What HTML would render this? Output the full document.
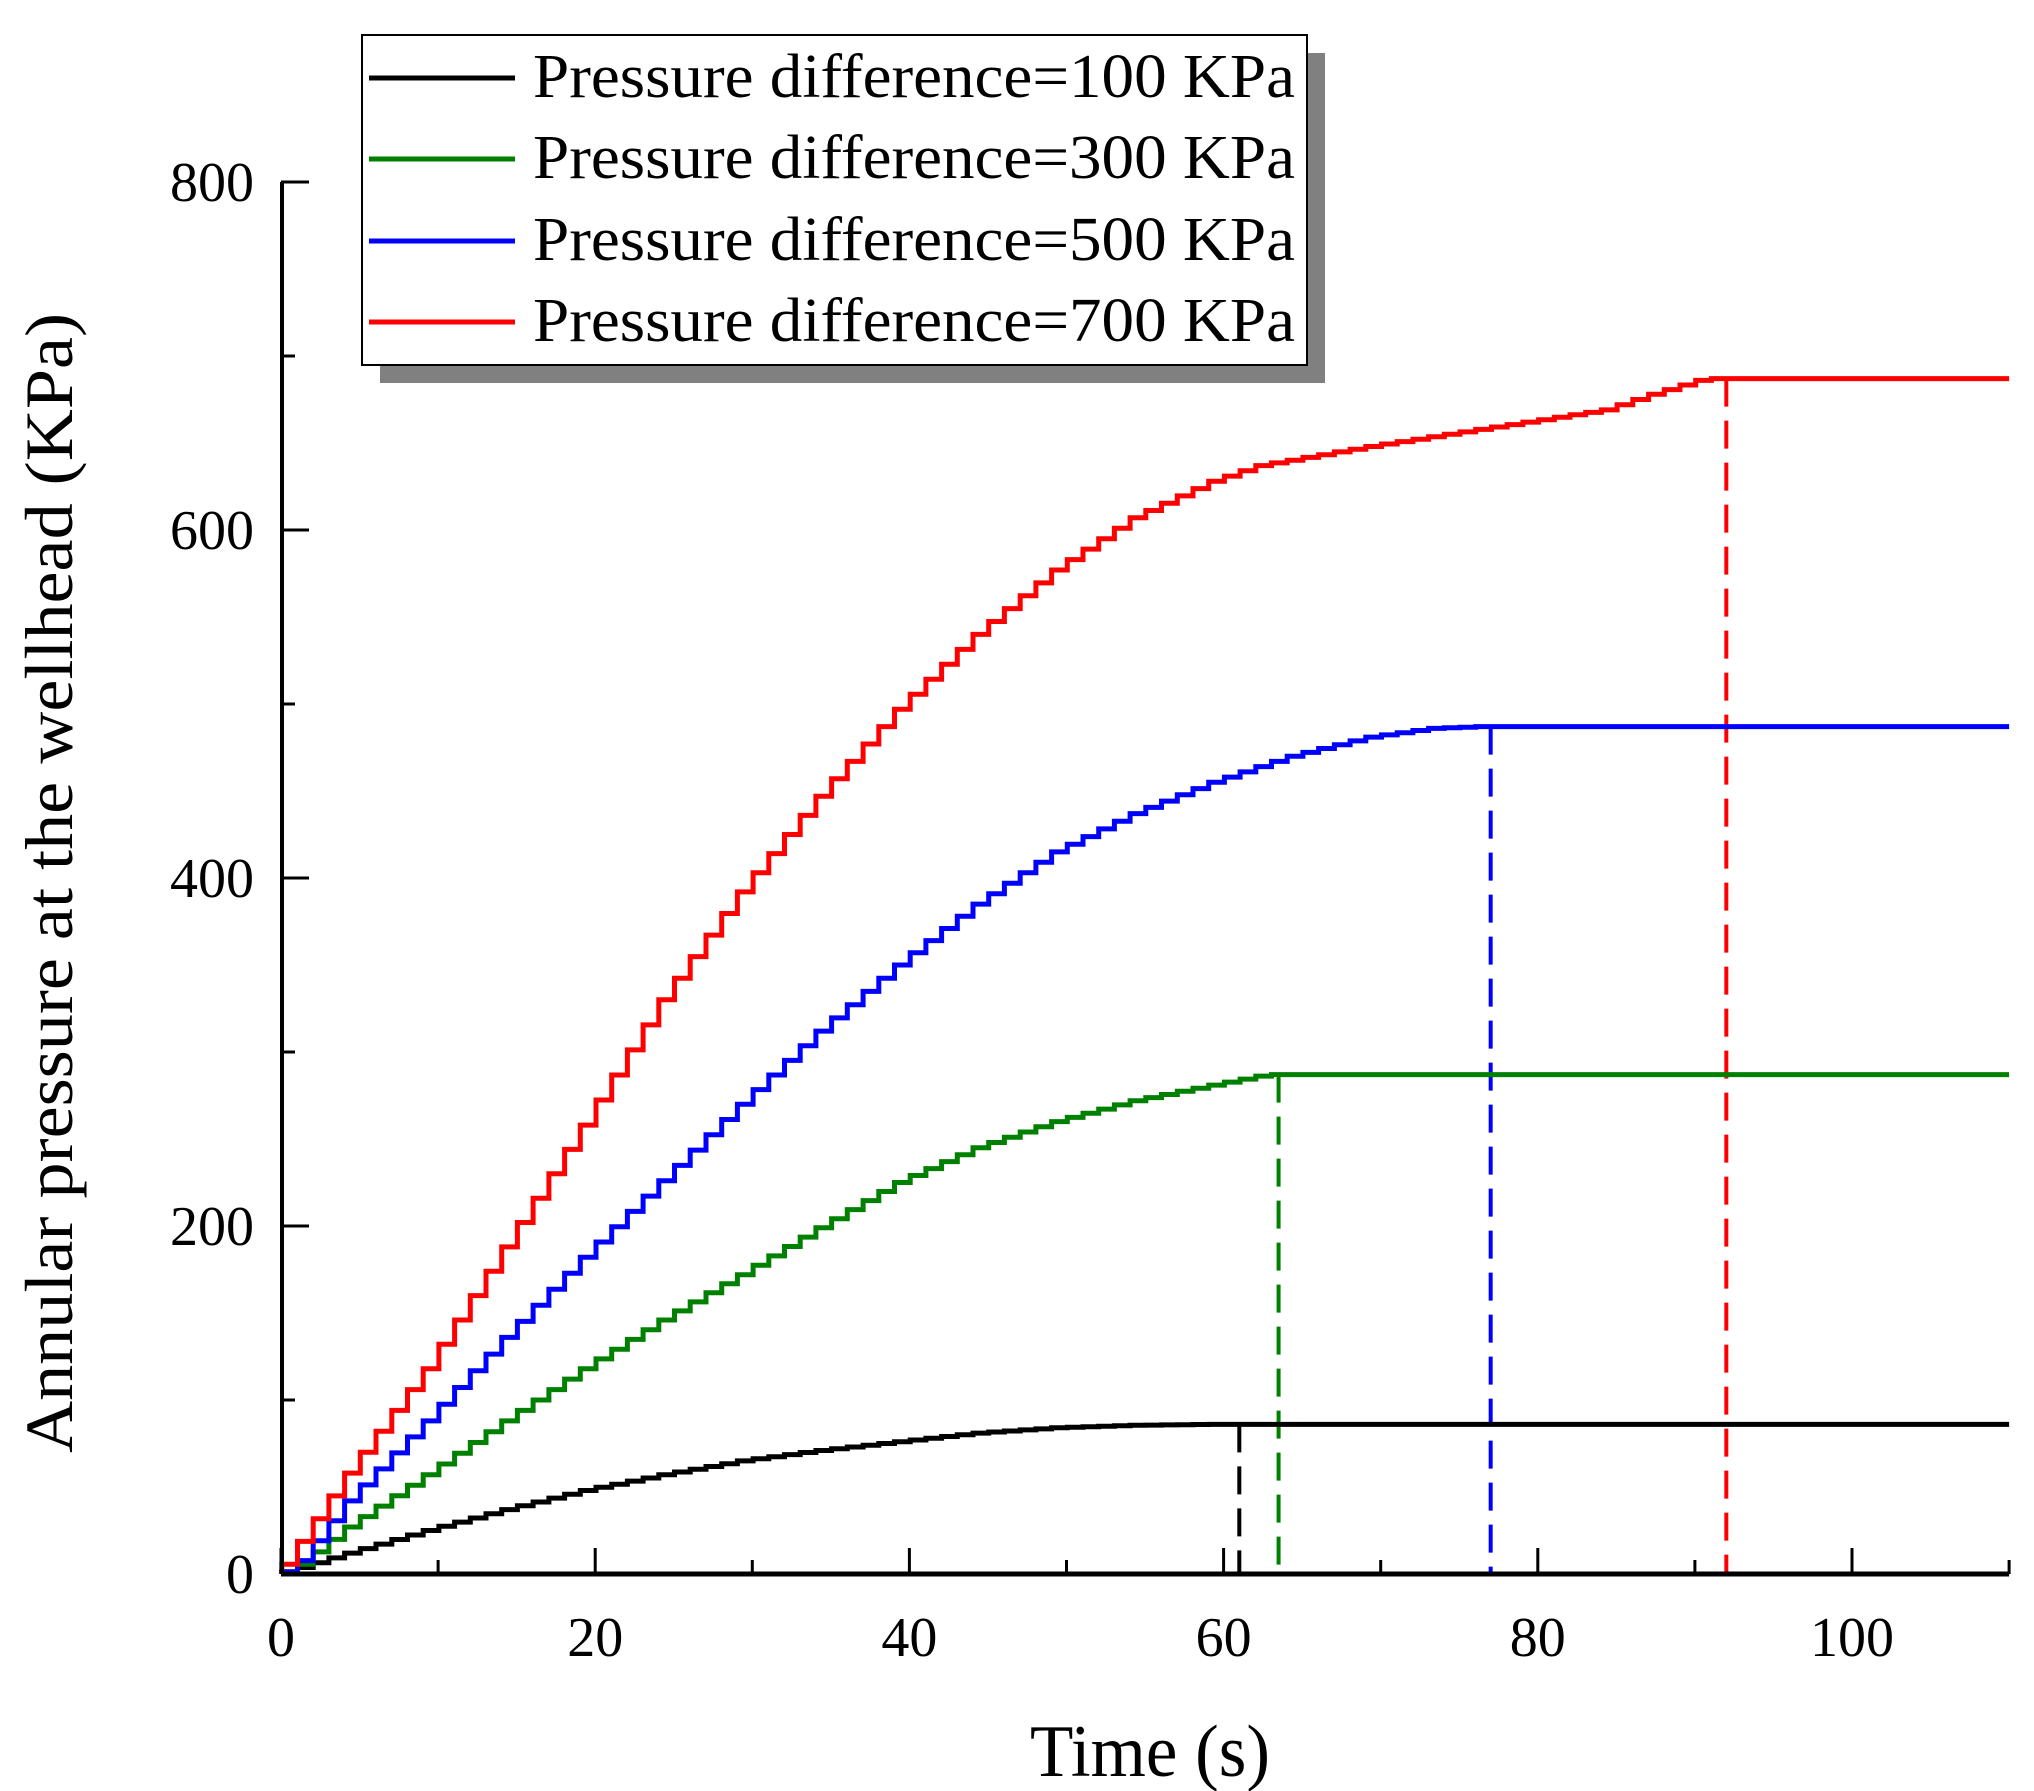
<!DOCTYPE html>
<html><head><meta charset="utf-8"><style>
html,body{margin:0;padding:0;background:#fff;}
svg{display:block;}
text{font-family:"Liberation Serif",serif;fill:#000;}
</style></head><body>
<svg id="s" width="2034" height="1791" viewBox="0 0 2034 1791" xmlns="http://www.w3.org/2000/svg">
<rect width="2034" height="1791" fill="#fff"/>
<g id="series"></g>
<g id="axes" stroke="#000" stroke-width="4" fill="none"></g>
<g id="labels"></g>
<!-- legend -->
<rect x="380" y="53" width="945" height="330" fill="#808080"/>
<rect x="362" y="35" width="945" height="330" fill="#fff" stroke="#000" stroke-width="2"/>
<line x1="369" y1="78" x2="515" y2="78" stroke="#000" stroke-width="5"/>
<line x1="369" y1="159" x2="515" y2="159" stroke="#008000" stroke-width="5"/>
<line x1="369" y1="241" x2="515" y2="241" stroke="#0000ff" stroke-width="5"/>
<line x1="369" y1="322" x2="515" y2="322" stroke="#ff0000" stroke-width="5"/>
<text x="533" y="97" font-size="62" textLength="762" lengthAdjust="spacingAndGlyphs">Pressure difference=100 KPa</text>
<text x="533" y="178" font-size="62" textLength="762" lengthAdjust="spacingAndGlyphs">Pressure difference=300 KPa</text>
<text x="533" y="260" font-size="62" textLength="762" lengthAdjust="spacingAndGlyphs">Pressure difference=500 KPa</text>
<text x="533" y="341" font-size="62" textLength="762" lengthAdjust="spacingAndGlyphs">Pressure difference=700 KPa</text>
<text x="1150" y="1776" font-size="74" text-anchor="middle" textLength="240" lengthAdjust="spacingAndGlyphs">Time (s)</text>
<text transform="translate(72,883) rotate(-90)" font-size="68" text-anchor="middle" textLength="1140" lengthAdjust="spacingAndGlyphs">Annular pressure at the wellhead (KPa)</text>
</svg>
<script>
var NS="http://www.w3.org/2000/svg";
var X0=281,SX=15.71,Y0=1574,SY=1.74;
function px(t){return X0+t*SX;} function py(v){return Y0-v*SY;}
function el(p,tag,a){var e=document.createElementNS(NS,tag);for(var k in a)e.setAttribute(k,a[k]);p.appendChild(e);return e;}
function interp(pts,t){if(t<=pts[0][0])return pts[0][1];for(var i=1;i<pts.length;i++){if(t<=pts[i][0]){var a=pts[i-1],b=pts[i];return a[1]+(b[1]-a[1])*(t-a[0])/(b[0]-a[0]);}}return pts[pts.length-1][1];}
var S=[
 {c:"#000",end:61,dash:61,p:[[0,0],[1,1],[5,12],[10,25],[15,37],[20,48],[25,57],[30,65],[35,71],[40,76],[45,81],[50,84],[55,85.5],[60,86]]},
 {c:"#008000",end:63.5,dash:63.5,p:[[0,0],[1.5,2],[5,27],[10,57],[15,88],[20,118],[25,146],[30,172],[35,199],[40,225],[45,245],[50,260],[55,272],[60,281],[63.5,287]]},
 {c:"#0000ff",end:77,dash:77,p:[[0,0],[1.5,2],[5,42],[10,88],[15,136],[20,182],[25,226],[30,270],[35,312],[40,350],[45,385],[50,415],[55,437],[60,455],[65,470],[70,481],[74,486],[77,487]]},
 {c:"#ff0000",end:92,dash:92,p:[[0,0],[0.8,3],[5,58],[10,118],[15,188],[20,258],[25,330],[30,392],[35,447],[40,497],[45,540],[50,577],[55,607],[60,628],[63,637],[70,648],[80,662],[85,669],[88,678],[91,686],[92,687]]}
];
var gS=document.getElementById("series");
S.forEach(function(s){
 var plateau=s.p[s.p.length-1][1];
 el(gS,"line",{x1:px(s.dash),y1:py(plateau),x2:px(s.dash),y2:Y0,stroke:s.c,"stroke-width":4,"stroke-dasharray":"28,14"});
});
S.forEach(function(s){
 var d="M"+px(0)+","+py(0);var t=0,dt=1;
 var y=py(0);
 while(t<s.end){var tn=Math.min(t+dt,s.end);var v=interp(s.p,tn);var yn=py(v);d+=" L"+px(t+0.05).toFixed(1)+","+y.toFixed(1)+" L"+px(t+0.05).toFixed(1)+","+yn.toFixed(1);y=yn;t=tn;}
 d+=" L"+px(110)+","+y.toFixed(1);
 el(gS,"path",{d:d,stroke:s.c,"stroke-width":5,fill:"none","stroke-linejoin":"miter"});
});
var gA=document.getElementById("axes"),gL=document.getElementById("labels");
el(gA,"line",{x1:X0,y1:Y0,x2:px(110),y2:Y0,"stroke-width":5});
el(gA,"line",{x1:X0+1,y1:Y0,x2:X0+1,y2:py(800)});
for(var t=0;t<=110;t+=10){var L=(t%20==0)?26:14;el(gA,"line",{x1:px(t),y1:Y0,x2:px(t),y2:Y0-L,"stroke-width":3});
 if(t%20==0){var tx=el(gL,"text",{x:px(t),y:1656,"font-size":"56","text-anchor":"middle"});tx.textContent=t;}}
for(var v=0;v<=800;v+=100){var L=(v%200==0)?28:14;el(gA,"line",{x1:X0,y1:py(v),x2:X0+L,y2:py(v),"stroke-width":3});
 if(v%200==0){var tx=el(gL,"text",{x:254,y:py(v)+19,"font-size":"56","text-anchor":"end"});tx.textContent=v;}}
</script>
</body></html>
